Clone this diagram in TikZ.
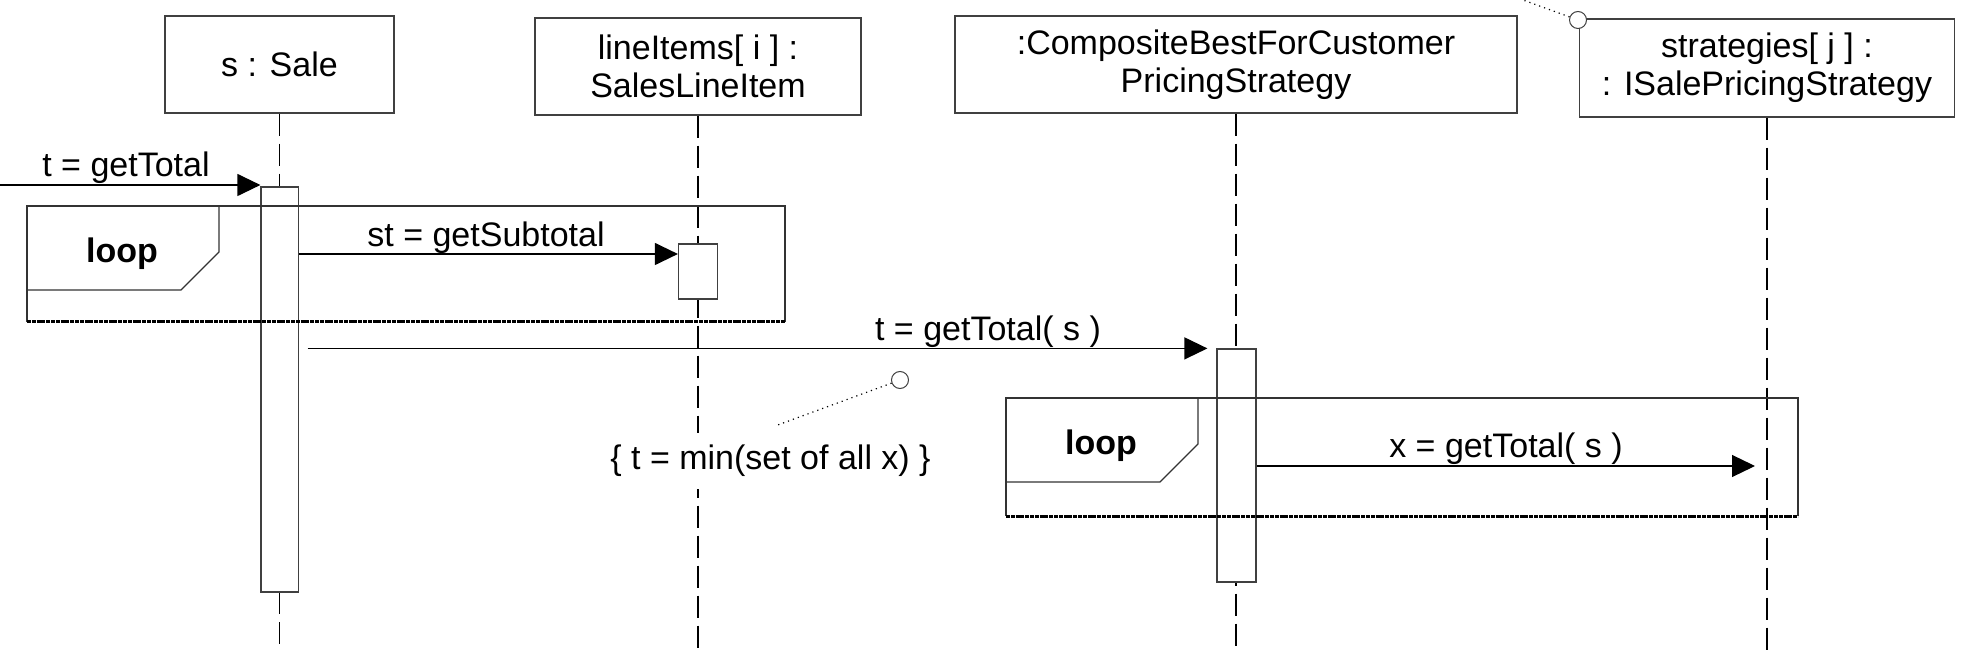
\documentclass[tikz,border=0pt]{standalone}
\usepackage{fontspec}
\setmainfont{Liberation Sans}
\usetikzlibrary{arrows.meta}
\newcommand\txt{\fontsize{17pt}{19pt}\selectfont}
\tikzset{
  objbox/.style={draw=black!75, line width=0.6pt, fill=white, inner sep=0pt, align=center, font=\txt},
  actbox/.style={draw=black!75, line width=0.6pt, fill=white, inner sep=0pt},
  lifeline/.style={draw=black, line width=0.8pt, dash pattern=on 11pt off 4pt},
  msg/.style={draw=black, line width=0.6pt, -{Triangle[length=11.5pt,width=11pt]}},
  lbl/.style={font=\txt, inner sep=0pt, anchor=base},
  framebox/.style={draw=black!80, line width=0.6pt},
  framebottom/.style={draw=black, line width=1.5pt, dash pattern=on 2pt off 0.4pt},
  looplbl/.style={font=\txt\bfseries, inner sep=0pt, anchor=base},
  notecircle/.style={circle, draw=black!75, line width=0.5pt, fill=white, minimum size=8.5pt, inner sep=0pt},
  noteline/.style={draw=black, line width=0.6pt, dotted},
  notetext/.style={font=\txt, fill=white, inner xsep=1pt, inner ysep=6pt, anchor=base}
}
\begin{document}
\begin{tikzpicture}[x=0.5pt,y=-0.5pt]
\useasboundingbox (0,0) rectangle (1978,652);
\coordinate (bottom) at (0,652);

% objects
\node[objbox, minimum width=114.5pt, minimum height=48.5pt] (sale) at (279.5,64.5) {s : Sale};
\node[objbox, minimum width=163pt, minimum height=48.5pt] (items) at (698,66.5) {lineItems[ i ] :\\SalesLineItem};
\node[objbox, minimum width=281pt, minimum height=48.5pt] (comp) at (1236,64.5) {:CompositeBestForCustomer\\PricingStrategy};
\node[objbox, minimum width=187.5pt, minimum height=49pt] (strat) at (1767,68) {strategies[ j ] :\\: ISalePricingStrategy};

% activations (positions only)
\coordinate (saleActC) at (279.75,389.5);
\coordinate (itemActC) at (698,271.5);
\coordinate (compActC) at (1236.5,465.5);

% lifelines
\draw[lifeline] (sale.south) -- (sale.south |- 0,187);
\draw[lifeline] (sale.south |- 0,592) -- (sale.south |- bottom);
\draw[lifeline] (items.south) -- (items.south |- bottom);
\draw[lifeline] (comp.south) -- (comp.south |- bottom);
\draw[lifeline] (strat.south) -- (strat.south |- bottom);

% activation boxes
\node[actbox, minimum width=18.75pt, minimum height=202.5pt] (saleAct) at (saleActC) {};
\node[actbox, minimum width=19.5pt, minimum height=27.5pt] (itemAct) at (itemActC) {};
\node[actbox, minimum width=19.5pt, minimum height=116.5pt] (compAct) at (compActC) {};

% loop frame 1
\draw[framebox] (27,322) -- (27,206) -- (785,206) -- (785,322);
\draw[framebottom] (27,322) -- (785,322);
\draw[framebox] (27,206) -- (219,206) -- (219,252) -- (181,290) -- (27,290);
\node[looplbl] (loop1) at (122,263) {loop};

% loop frame 2
\draw[framebox] (1006,516) -- (1006,398) -- (1798,398) -- (1798,516);
\draw[framebottom] (1006,516) -- (1798,516);
\draw[framebox] (1006,398) -- (1198,398) -- (1198,444) -- (1160,482) -- (1006,482);
\node[looplbl] (loop2) at (1101,455) {loop};

% messages
\coordinate (in) at (0,185);
\draw[msg] (in) -- (in -| saleAct.west);
\node[lbl] (l1) at (126,177) {t = getTotal};

\coordinate (m2y) at (0,254);
\draw[msg] (saleAct.east |- m2y) -- (itemAct.west |- m2y);
\node[lbl] (l2) at (486,247) {st = getSubtotal};

\draw[msg, shorten <=4.25pt, shorten >=4.5pt] (saleAct.east |- compAct.north) -- (compAct.north west);
\node[lbl] (l3) at (988,341) {t = getTotal( s )};

\coordinate (m4y) at (0,466);
\draw[msg, shorten >=6pt] (compAct.east |- m4y) -- (strat.south |- m4y);
\node[lbl] (l4) at (1506,458) {x = getTotal( s )};

% notes
\node[notecircle] (nc1) at (900,380) {};
\coordinate (n1end) at (775,426);
\draw[noteline] (nc1) -- (n1end);
\node[notetext] (note1) at (770.5,470) {\{ t = min(set of all x) \}};

\node[notecircle] (nc2) at (1578,20) {};
\coordinate (n2end) at (1523,0);
\draw[noteline] (nc2) -- (n2end);
\end{tikzpicture}
\end{document}
